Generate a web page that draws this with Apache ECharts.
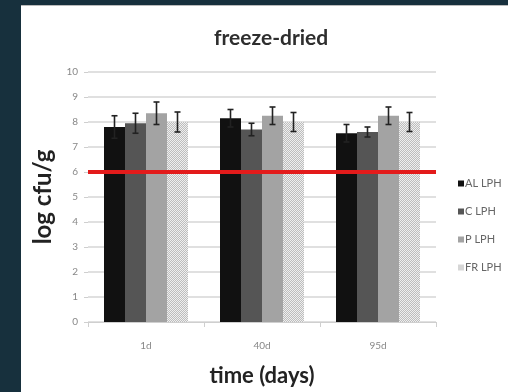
<!DOCTYPE html>
<html>
<head>
<meta charset="utf-8">
<script src="https://cdn.jsdelivr.net/npm/echarts@6/dist/echarts.min.js"></script>
<style>
  html, body { margin: 0; padding: 0; width: 508px; height: 392px; background: #17303d; overflow: hidden; }
  .panel { position: absolute; left: 21px; top: 5px; width: 487px; height: 387px; background: #fff; border-top: 1px solid #bbb; box-sizing: border-box; }
  #chart { width: 487px; height: 386px; }
</style>
</head>
<body>
<div class="panel"><div id="chart"></div></div>
<script>
  // data
  const days = ['1d', '40d', '95d']
  const seriesNames = ['AL LPH', 'C LPH', 'P LPH', 'FR LPH']
  const alValues = [7.8, 8.15, 7.55]
  const cValues = [7.95, 7.7, 7.6]
  const pValues = [8.35, 8.25, 8.25]
  const frValues = [8.0, 8.0, 8.0]
  const alErr = [0.45, 0.35, 0.35]
  const cErr = [0.4, 0.25, 0.2]
  const pErr = [0.45, 0.35, 0.35]
  const frErr = [0.4, 0.38, 0.38]
  const threshold = 6

  const values = [alValues, cValues, pValues, frValues]
  const errors = [alErr, cErr, pErr, frErr]

  const barW = 21

  // dotted fill for FR LPH
  const makePattern = () => {
    const cv = document.createElement('canvas')
    cv.width = 2
    cv.height = 2
    const ctx = cv.getContext('2d')
    ctx.fillStyle = '#efefef'
    ctx.fillRect(0, 0, 2, 2)
    ctx.fillStyle = '#bdbdbd'
    ctx.fillRect(0, 0, 1, 1)
    ctx.fillRect(1, 1, 1, 1)
    return cv
  }

  const colors = ['#111111', '#555555', '#a3a3a3', { image: makePattern(), repeat: 'repeat' }]

  const errData = []
  values.forEach((arr, s) => {
    arr.forEach((v, c) => {
      errData.push([c, s, v - errors[s][c], v + errors[s][c]])
    })
  })

  const chart = echarts.init(document.getElementById('chart'))

  const barSeries = seriesNames.map((name, i) => ({
    name,
    type: 'bar',
    data: values[i],
    barWidth: barW,
    barGap: '0%',
    itemStyle: { color: colors[i] },
    markLine: i === 0 ? {
      silent: true,
      symbol: 'none',
      label: { show: false },
      lineStyle: { color: '#e31b1b', width: 4, type: 'solid' },
      data: [{ yAxis: threshold }]
    } : undefined,
    z: 2
  }))

  const option = {
    animation: false,
    textStyle: { fontFamily: 'Lato, "Open Sans", sans-serif' },
    title: {
      text: 'freeze-dried',
      left: 188,
      top: 17,
      textStyle: { fontSize: 21, fontWeight: 'bold', color: '#2e2e2e', fontFamily: 'Lato, "Open Sans", sans-serif' }
    },
    legend: {
      orient: 'vertical',
      left: 432,
      top: 167,
      itemWidth: 6,
      itemHeight: 6,
      itemGap: 17,
      icon: 'rect',
      data: seriesNames,
      textStyle: { fontSize: 11, color: '#666', padding: [0, 0, 0, -4] }
    },
    grid: { left: 67, right: 72, top: 66, bottom: 68 },
    xAxis: {
      type: 'category',
      data: days,
      name: 'time (days)',
      nameLocation: 'middle',
      nameGap: 43,
      nameTextStyle: { fontSize: 22, color: '#222', fontWeight: 'bold' },
      axisLine: { lineStyle: { color: '#cfcfcf' } },
      axisTick: { show: true, length: 5, lineStyle: { color: '#cfcfcf' } },
      axisLabel: { fontSize: 10, color: '#888', margin: 19 }
    },
    yAxis: {
      type: 'value',
      min: 0,
      max: 10,
      interval: 1,
      name: 'log cfu/g',
      nameLocation: 'middle',
      nameGap: 33,
      nameTextStyle: { fontSize: 24, color: '#222', fontWeight: 'bold' },
      axisLine: { show: false },
      axisTick: { show: true, length: 4, lineStyle: { color: '#cfcfcf' } },
      axisLabel: { fontSize: 10, color: '#888', margin: 10 },
      splitLine: { lineStyle: { color: '#d6d6d6', width: 1.5 } }
    },
    series: [
      ...barSeries,
      {
        type: 'custom',
        name: 'err',
        data: errData,
        z: 5,
        silent: true,
        renderItem: (params, api) => {
          const c = api.value(0)
          const s = api.value(1)
          const lo = api.coord([c, api.value(2)])
          const hi = api.coord([c, api.value(3)])
          const x = lo[0] + (s - 1.5) * barW
          const cap = 3
          const st = { stroke: '#222', lineWidth: 1.6 }
          return {
            type: 'group',
            children: [
              { type: 'line', shape: { x1: x, y1: lo[1], x2: x, y2: hi[1] }, style: st },
              { type: 'line', shape: { x1: x - cap, y1: hi[1], x2: x + cap, y2: hi[1] }, style: st },
              { type: 'line', shape: { x1: x - cap, y1: lo[1], x2: x + cap, y2: lo[1] }, style: st }
            ]
          }
        }
      }
    ]
  }

  chart.setOption(option)
</script>
</body>
</html>
